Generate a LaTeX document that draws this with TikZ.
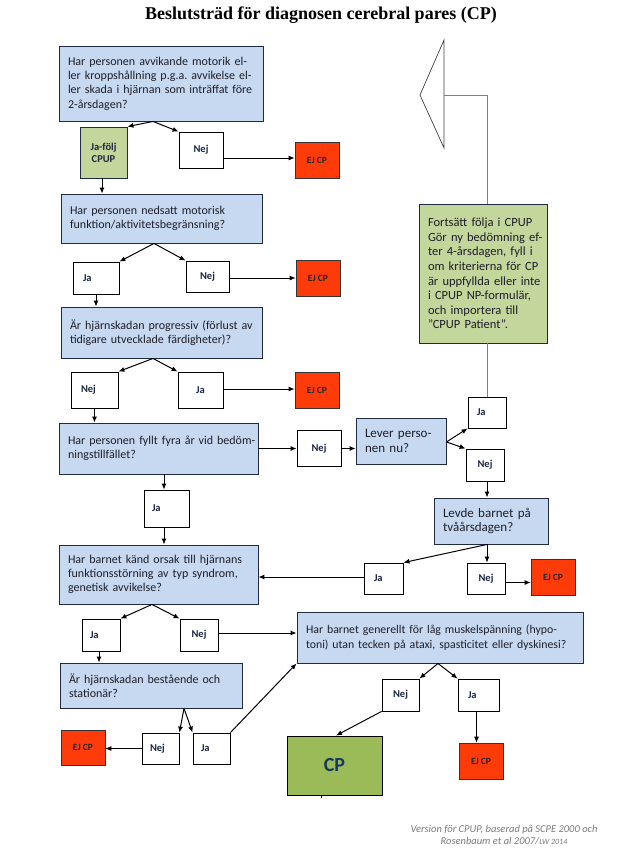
\documentclass[tikz,border=0pt]{standalone}
\usepackage{fontspec}
\setmainfont{Carlito}
\newfontfamily\titlefont{Liberation Serif}
\usetikzlibrary{arrows.meta}
\definecolor{qfill}{HTML}{C6D9F1}
\definecolor{qborder}{HTML}{1F2B45}
\definecolor{qtext}{HTML}{1E1E28}
\definecolor{labtext}{HTML}{1C2740}
\definecolor{ejred}{HTML}{FF3B0A}
\definecolor{lgreen}{HTML}{C3D69B}
\definecolor{cpgreen}{HTML}{9BBB59}
\definecolor{cptext}{HTML}{17375E}
\definecolor{linegray}{HTML}{7F7F7F}
\definecolor{footgray}{HTML}{7A7A7A}
\newcommand\oneline[1]{\mbox{#1}}
\begin{document}
\frenchspacing
\begin{tikzpicture}[x=1pt,y=-1pt,
  qbox/.style={draw=qborder, fill=qfill, line width=0.9pt, inner sep=0pt, align=left,
    font=\fontsize{12pt}{14.3pt}\selectfont, text=qtext},
  ybox/.style={draw=black, fill=white, line width=0.8pt, inner sep=0pt,
    font=\bfseries\fontsize{10.5pt}{12pt}\selectfont, text=labtext},
  ejbox/.style={draw=black!80, fill=ejred, line width=0.6pt, inner sep=0pt,
    font=\bfseries\fontsize{9.5pt}{11pt}\selectfont, text=black!85,
    minimum width=44pt, minimum height=36pt},
  arr/.style={-{Latex[length=6pt,width=5pt]}, line width=1pt, black},
  gline/.style={draw=linegray, line width=1pt}
]
\useasboundingbox (0,0) rectangle (632,854);

% title
\node (title) at (321,15) {\titlefont\bfseries\fontsize{18pt}{20pt}\selectfont Beslutsträd för diagnosen cerebral pares (CP)};

% question boxes
\node[qbox, minimum width=204pt, minimum height=75pt, text width=186pt] (q1) at (161,83.5)
  {\oneline{Har personen avvikande motorik el-}\\\oneline{ler kroppshållning p.g.a. avvikelse el-}\\\oneline{ler skada i hjärnan som inträffat före}\\2-årsdagen?};
\node[qbox, minimum width=201pt, minimum height=49pt, text width=183pt] (q2) at (161.5,218.5)
  {\oneline{Har personen nedsatt motorisk}\\\oneline{funktion/aktivitetsbegränsning?}};
\node[qbox, minimum width=201pt, minimum height=51pt, text width=183pt] (q3) at (161.5,332.5)
  {\oneline{Är hjärnskadan progressiv (förlust av}\\\oneline{tidigare utvecklade färdigheter)?}};
\node[qbox, minimum width=199pt, minimum height=51pt, text width=181pt] (q4) at (158.5,448.5)
  {\oneline{Har personen fyllt fyra år vid bedöm-}\\\oneline{ningstillfället?}};
\node[qbox, minimum width=90pt, minimum height=46pt, text width=72pt,
  font=\fontsize{13pt}{14.6pt}\selectfont] (lever) at (401,441)
  {\oneline{Lever perso-}\\\oneline{nen nu?}};
\node[qbox, minimum width=114pt, minimum height=46pt, text width=96pt,
  font=\fontsize{13pt}{14.6pt}\selectfont] (levde) at (491,521)
  {\oneline{Levde barnet på}\\\oneline{tvåårsdagen?}};
\node[qbox, minimum width=199pt, minimum height=59pt, text width=181pt] (q5) at (158.5,574.5)
  {\oneline{Har barnet känd orsak till hjärnans}\\\oneline{funktionsstörning av typ syndrom,}\\\oneline{genetisk avvikelse?}};
\node[qbox, minimum width=286pt, minimum height=51pt, text width=268pt,
  font=\fontsize{11.8pt}{14.3pt}\selectfont] (q6) at (440,637.5)
  {\oneline{Har barnet generellt för låg muskelspänning (hypo-}\\\oneline{toni) utan tecken på ataxi, spasticitet eller dyskinesi?}};
\node[qbox, minimum width=182pt, minimum height=45pt, text width=164pt] (q7) at (151,685.5)
  {\oneline{Är hjärnskadan bestående och}\\\oneline{stationär?}};

% green boxes
\node[qbox, fill=lgreen, minimum width=128pt, minimum height=139pt, text width=110pt,
  font=\fontsize{12.5pt}{14.6pt}\selectfont] (green) at (483,273.5)
  {\oneline{Fortsätt följa i CPUP}\\\oneline{Gör ny bedömning ef-}\\\oneline{ter 4-årsdagen, fyll i}\\\oneline{om kriterierna för CP}\\\oneline{är uppfyllda eller inte}\\\oneline{i CPUP NP-formulär,}\\\oneline{och importera till}\\\oneline{”CPUP Patient”.}};
\node[ybox, fill=lgreen, draw=qborder, align=center, minimum width=47pt, minimum height=51pt] (jafolj) at (103.5,152.5) {Ja-följ\\CPUP};
\node[draw=black, fill=cpgreen, line width=0.9pt, inner sep=0pt, minimum width=95pt, minimum height=59pt,
  text=cptext, font=\bfseries\fontsize{20pt}{22pt}\selectfont] (cp) at (334.5,765.5) {CP};

% answer boxes
\node[ybox, minimum width=44pt, minimum height=36pt] (nej1) at (201,150) {Nej};
\node[ybox, minimum width=46pt, minimum height=32pt, text width=26pt, align=left] (ja2) at (96,278) {Ja};
\node[ybox, minimum width=43pt, minimum height=31pt] (nej2) at (207.5,276.5) {Nej};
\node[ybox, minimum width=47pt, minimum height=36pt, text width=27pt, align=left] (nej3) at (94.5,390) {Nej};
\node[ybox, minimum width=45pt, minimum height=36pt] (ja3) at (200.5,390) {Ja};
\node[ybox, minimum width=44pt, minimum height=36pt] (nej4) at (319,448.5) {Nej};
\node[ybox, minimum width=38pt, minimum height=31pt, text width=20pt, align=left] (jaR) at (487,412.5) {Ja};
\node[ybox, minimum width=38pt, minimum height=32pt] (nejR) at (485,465) {Nej};
\node[ybox, minimum width=39pt, minimum height=31pt, text width=19pt, align=left] (jaL) at (383.5,578.5) {Ja};
\node[ybox, minimum width=38pt, minimum height=31pt] (nejL) at (486,578.5) {Nej};
\node[ybox, minimum width=45pt, minimum height=37pt, text width=29pt, align=left] (ja4) at (166.5,508.5) {Ja};
\node[ybox, minimum width=38pt, minimum height=32pt, text width=22pt, align=left] (ja5) at (101,635) {Ja};
\node[ybox, minimum width=38pt, minimum height=32pt] (nej5) at (199,635) {Nej};
\node[ybox, minimum width=37pt, minimum height=31pt, text width=21pt, align=left] (nej7) at (160.5,748.5) {Nej};
\node[ybox, minimum width=37pt, minimum height=31pt, text width=21pt, align=left] (ja7) at (211.5,748.5) {Ja};
\node[ybox, minimum width=37pt, minimum height=32pt] (nejH) at (400.5,695) {Nej};
\node[ybox, minimum width=41pt, minimum height=32pt, text width=21pt, align=left] (jaH) at (478.5,695) {Ja};

% EJ CP boxes
\node[ejbox] (ej1) at (317,160) {EJ CP};
\node[ejbox] (ej2) at (318,278) {EJ CP};
\node[ejbox] (ej3) at (317,390) {EJ CP};
\node[ejbox] (ej4) at (553,577) {EJ CP};
\node[ejbox, minimum height=35pt] (ej5) at (83,747.5) {EJ CP};
\node[ejbox] (ej6) at (481,761) {EJ CP};

% big open arrow and grey lines
\coordinate (tip) at (444,95);
\draw[draw=black!75, line width=0.7pt] (444,40) -- (420,95) -- (444,148) -- cycle;
\draw[gline] (tip) -| (jaR.north |- green.north);
\draw[gline] (jaR.north |- green.south) -- (jaR.north);

% connectors
\draw[arr] ([xshift=-8pt]q1.south) -- (jafolj.north east);
\draw[arr] ([xshift=-8pt]q1.south) -- (nej1.north west);
\draw[arr] ([yshift=-8pt]nej1.east) -- ([yshift=-8pt]nej1.east -| ej1.west);
\draw[arr] ([xshift=-1.5pt]jafolj.south) -- ([xshift=-1.5pt]jafolj.south |- q2.north);
\draw[arr] ([xshift=-7.5pt]q2.south) -- (ja2.north east);
\draw[arr] ([xshift=-7.5pt]q2.south) -- (nej2.north west);
\draw[arr] (nej2.east |- ej2.west) -- (ej2.west);
\draw[arr] (ja2.south) -- (ja2.south |- q3.north);
\draw[arr] ([xshift=-8.5pt]q3.south) -- (nej3.north east);
\draw[arr] ([xshift=-8.5pt]q3.south) -- (ja3.north west);
\draw[arr] ([yshift=1pt]ja3.east) -- ([yshift=1pt]ja3.east -| ej3.west);
\draw[arr] (nej3.south) -- (nej3.south |- q4.north);
\draw[arr] (q4.east) -- (nej4.west);
\draw[arr] (nej4.east) -- (nej4.east -| lever.west);
\draw[arr] ([yshift=-1pt]lever.east) -- (jaR.south west);
\draw[arr] ([yshift=-1pt]lever.east) -- (nejR.north west);
\draw[arr] ([xshift=2pt]nejR.south) -- ([xshift=2pt]nejR.south |- levde.north);
\draw[arr] ([xshift=-4pt]levde.south) -- (jaL.north east);
\draw[arr] ([xshift=-4pt]levde.south) -- ([xshift=-4pt]levde.south |- nejL.north);
\draw[arr] ([yshift=-4pt]nejL.east) -- ([yshift=-4pt]nejL.east -| ej4.west);
\draw[arr] ([yshift=1.5pt]jaL.west) -- ([yshift=1.5pt]jaL.west -| q5.east);
\draw[arr] ([xshift=-2.5pt]ja4.north |- q4.south) -- ([xshift=-2.5pt]ja4.north);
\draw[arr] ([xshift=-2.5pt]ja4.south) -- ([xshift=-2.5pt]ja4.south |- q5.north);
\draw[arr] ([xshift=-6.5pt]q5.south) -- (ja5.north east);
\draw[arr] ([xshift=-6.5pt]q5.south) -- (nej5.north west);
\draw[arr] ([yshift=2pt]nej5.east) -- ([yshift=2pt]nej5.east -| q6.west);
\draw[arr] ([xshift=-2pt]ja5.south) -- ([xshift=-2pt]ja5.south |- q7.north);
\draw[arr] ([xshift=33pt]q7.south) -- (nej7.north east);
\draw[arr] ([xshift=33pt]q7.south) -- (ja7.north west);
\draw[arr] (nej7.west) -- (nej7.west -| ej5.east);
\draw[arr] (ja7.north east) -- (q6.south west);
\draw[arr] ([xshift=-2pt]q6.south) -- (nejH.north east);
\draw[arr] ([xshift=-2pt]q6.south) -- (jaH.north west);
\draw[arr] (nejH.south west) -- ([xshift=1.5pt]cp.north);
\draw[arr] ([xshift=-2pt]jaH.south) -- ([xshift=-2pt]jaH.south |- ej6.north);
\draw[line width=0.8pt] ([xshift=-13.5pt]cp.south) -- ++(0,3);

% footer
\node[font=\itshape\fontsize{10.5pt}{12pt}\selectfont, text=footgray, align=center] (foot) at (504,835)
  {Version för CPUP, baserad på SCPE 2000 och\\Rosenbaum et al 2007/{\fontsize{8pt}{12pt}\selectfont LW 2014}};
\end{tikzpicture}
\end{document}
